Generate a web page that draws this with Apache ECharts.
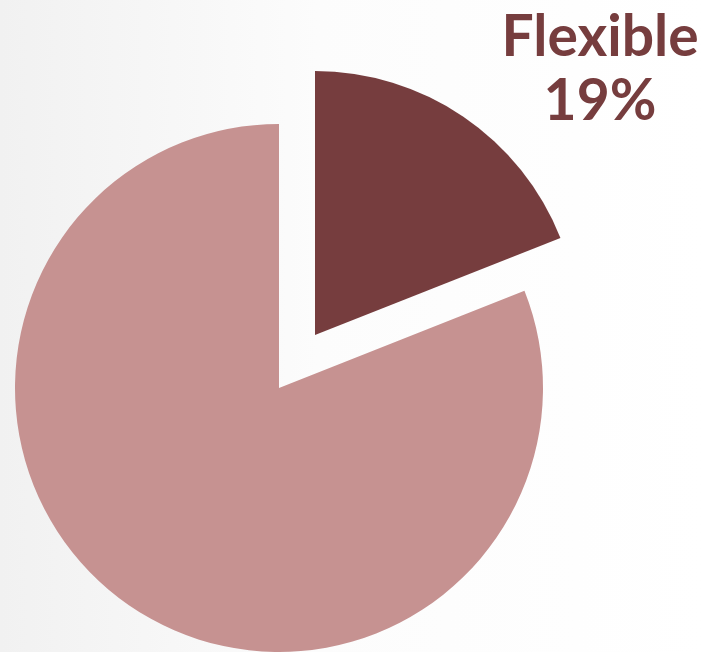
<!DOCTYPE html>
<html>
<head>
<meta charset="utf-8">
<script src="https://cdn.jsdelivr.net/npm/echarts@6/dist/echarts.min.js"></script>
<style>
html,body{margin:0;padding:0;width:705px;height:652px;overflow:hidden;}
#chart{width:705px;height:652px;}
</style>
</head>
<body>
<div id="chart"></div>
<script>
var categories = ['Flexible', 'Fixed'];
var values = [19, 81];
var colors = ['#763d3e', '#c69291'];
var labelIndex = 0;

var total = values.reduce(function (a, b) { return a + b; }, 0);
var labelText = categories[labelIndex] + '\n' + Math.round(values[labelIndex] / total * 100) + '%';

var chart = echarts.init(document.getElementById('chart'), null, {renderer: 'canvas'});
var data = categories.map(function (c, i) {
  return {
    name: c,
    value: values[i],
    selected: i === labelIndex,
    itemStyle: {color: colors[i]}
  };
});
chart.setOption({
  animation: false,
  backgroundColor: {
    type: 'linear', x: 0, y: 0, x2: 1, y2: 0,
    colorStops: [
      {offset: 0, color: '#f1f1f1'},
      {offset: 0.45, color: '#fcfcfc'},
      {offset: 1, color: '#ffffff'}
    ]
  },
  title: {
    text: labelText,
    left: 600,
    top: 6,
    textAlign: 'center',
    padding: 0,
    textStyle: {
      fontFamily: 'Lato',
      fontWeight: 'bold',
      fontSize: 57,
      lineHeight: 64,
      color: '#763d3e'
    }
  },
  series: [{
    type: 'pie',
    center: [279, 388],
    radius: 264,
    startAngle: 90,
    clockwise: true,
    selectedMode: 'single',
    selectedOffset: 64,
    emphasis: {disabled: true},
    label: {show: false},
    labelLine: {show: false},
    data: data
  }]
});
</script>
</body>
</html>
